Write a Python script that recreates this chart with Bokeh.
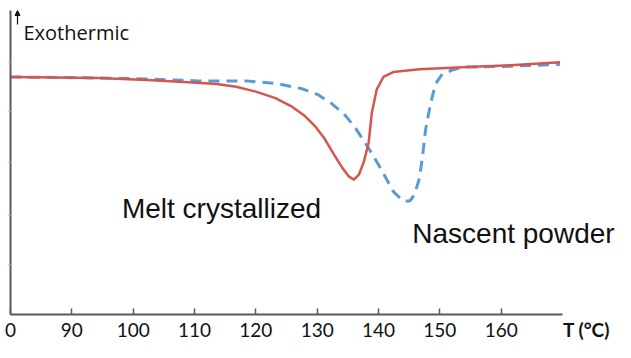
from bokeh.plotting import figure
from bokeh.models import Range1d, FixedTicker, Label, Arrow, NormalHead
from bokeh.embed import file_html
from bokeh.resources import INLINE

# ---- data ----
temp_ticks = [80, 90, 100, 110, 120, 130, 140, 150, 160]
tick_labels = ["0", "90", "100", "110", "120", "130", "140", "150", "160"]
axis_start = 80
axis_end = 170
x_title = "T (°C)"
y_title = "Exothermic"

melt_T = [80.0, 94.3, 102.3, 110.4, 113.6, 116.8, 120.0, 123.2, 125.8, 128.0, 129.6,
          131.2, 132.8, 134.1, 135.2, 136.0, 136.8, 137.6, 138.4, 138.9, 139.7, 140.8,
          142.4, 146.7, 153.6, 161.6, 169.6]
melt_y = [243, 242, 240, 237, 235.7, 233, 228, 221.3, 213, 203, 193,
          180, 163, 150, 141, 138, 143, 156, 176, 206, 230, 243,
          248, 251, 253, 255, 258]

nascent_T = [80.0, 94.3, 102.3, 110.4, 118.4, 123.7, 127.5, 130.1, 132.3, 134.4, 136.0,
             138.1, 140.3, 142.4, 144.0, 145.1, 145.9, 146.7, 147.2, 147.7, 148.5, 149.3,
             150.4, 152.0, 153.6, 161.6, 169.6]
nascent_y = [243, 242, 241, 239, 239, 236, 231, 225, 216, 205, 193,
             173, 150, 126, 116, 116, 123, 140, 163, 190, 216, 236,
             246, 250, 253, 254, 256]

y_marks = [51, 101, 155, 208, 258]
y_top = 311

RED = "#d4564e"
BLUE = "#5b9bd5"
AXIS = "#5a5a5a"
INK = "#111111"

W, H = 615, 342
PX0, PX1 = 10, 562      # pixel columns of T=80 and T=170
PY0, PY1 = 314, 10      # pixel rows of y=0 and y=top
sx = (PX1 - PX0) / (axis_end - axis_start)
sy = (PY0 - PY1) / y_top
x_lo = axis_start - PX0 / sx
x_hi = axis_start + (W - PX0) / sx
y_hi = y_top + PY1 / sy
y_lo = -(H - PY0) / sy

p = figure(width=W, height=H, x_range=Range1d(x_lo, x_hi), y_range=Range1d(y_lo, y_hi),
           output_backend="svg", toolbar_location=None,
           min_border_left=0, min_border_right=0, min_border_top=0, min_border_bottom=0)
p.outline_line_color = None
p.xgrid.visible = False
p.ygrid.visible = False

STANDOFF = 8
xa = p.xaxis[0]
xa.fixed_location = 0
xa.ticker = FixedTicker(ticks=temp_ticks)
xa.major_label_overrides = {t: l for t, l in zip(temp_ticks, tick_labels)}
xa.bounds = (axis_start, axis_end)
xa.axis_line_width = 2
xa.axis_line_color = AXIS
xa.major_tick_line_color = AXIS
xa.major_tick_line_width = 1.5
xa.major_tick_in = 6
xa.major_tick_out = 0
xa.minor_tick_line_color = None
xa.major_label_standoff = STANDOFF
xa.major_label_text_font = "Lato"
xa.major_label_text_font_size = "19px"
xa.major_label_text_color = INK

ya = p.yaxis[0]
ya.fixed_location = axis_start
ya.ticker = FixedTicker(ticks=y_marks)
ya.major_label_overrides = {t: "" for t in y_marks}
ya.bounds = (0, y_top)
ya.axis_line_width = 2
ya.axis_line_color = AXIS
ya.major_tick_line_color = "#cccccc"
ya.major_tick_in = 0
ya.major_tick_out = 3
ya.minor_tick_line_color = None
ya.major_label_standoff = 0

p.line(nascent_T, nascent_y, line_color=BLUE, line_width=3, line_dash="11 7")
p.line(melt_T, melt_y, line_color=RED, line_width=2.5)

p.add_layout(Label(x=axis_end, y=0, x_offset=24, y_offset=-15, text=x_title,
                   text_font="Lato", text_font_style="bold", text_font_size="19px",
                   text_color=INK, text_align="center", text_baseline="middle"))

arrow_x = axis_start + 7 / sx
p.add_layout(Arrow(end=NormalHead(size=5, line_color=INK, fill_color=INK, line_width=1),
                   x_start=arrow_x, y_start=y_top - 14 / sy, x_end=arrow_x, y_end=y_top,
                   line_color=INK, line_width=1.2))
p.add_layout(Label(x=axis_start, y=y_top, x_offset=13, y_offset=-22, text=y_title,
                   text_font="Open Sans", text_font_size="20px", text_color=INK,
                   text_align="left", text_baseline="middle"))
p.add_layout(Label(x=114.4, y=108, text="Melt crystallized", text_font="Liberation Sans",
                   text_font_size="28px", text_color=INK,
                   text_align="center", text_baseline="middle"))
p.add_layout(Label(x=162.0, y=83, text="Nascent powder", text_font="Liberation Sans",
                   text_font_size="28px", text_color=INK,
                   text_align="center", text_baseline="middle"))

open("out.html", "w").write(file_html(p, INLINE))
